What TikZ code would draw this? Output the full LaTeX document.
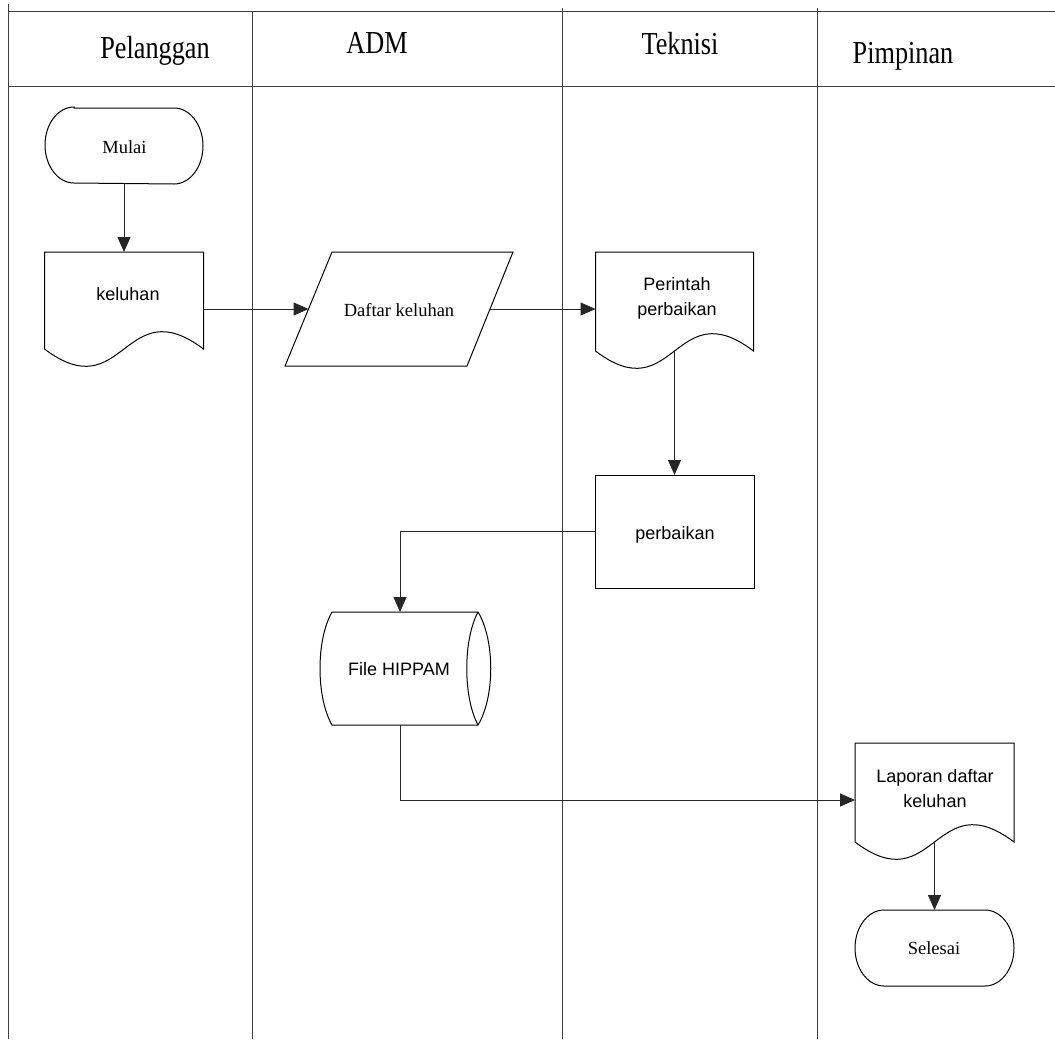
\documentclass[tikz,border=0pt]{standalone}
\usepackage{fontspec}
\setmainfont{Liberation Serif}
\newfontfamily\hdrfont[FakeStretch=0.82]{Liberation Serif}
\newfontfamily\sansfont{Liberation Sans}
\usetikzlibrary{calc,arrows.meta}
\newcommand\docshape[1]{\draw[shp] (#1.south west) -- (#1.north west) -- (#1.north east) -- (#1.south east) .. controls ($(#1.south)+(0,-60)$) and ($(#1.south)+(0,60)$) .. (#1.south west);}
\newcommand\termshape[1]{\draw[shp] ($(#1.north west)+(29,0)$) -- ($(#1.north east)+(-29,0)$) arc[start angle=90,end angle=-90,x radius=29pt,y radius=38pt] -- ($(#1.south west)+(29,0)$) arc[start angle=270,end angle=90,x radius=29pt,y radius=38pt] -- cycle;}
\begin{document}
\begin{tikzpicture}[x=1pt,y=-1pt,
  lane/.style={draw=black!75, line width=0.9pt},
  shp/.style={draw=black, line width=1pt},
  area/.style 2 args={inner sep=0pt, outer sep=0pt, minimum width=#1pt, minimum height=#2pt},
  conn/.style={draw=black!85, line width=1pt, -{Triangle[length=15pt,width=13pt]}},
  hdr/.style={font=\hdrfont\fontsize{32}{38}\selectfont, anchor=base, inner sep=0pt},
  ser/.style={font=\fontsize{18.5}{22}\selectfont, anchor=base, inner sep=0pt},
  san/.style={font=\sansfont\fontsize{18}{25}\selectfont, anchor=base, inner sep=0pt, align=center},
]
\useasboundingbox (0,0) rectangle (1055,1039);
% swimlanes
\draw[lane] (8,4) -- (8,1039);
\draw[lane] (252,11) -- (252,1039);
\draw[lane] (562,8) -- (562,1039);
\draw[lane] (817,8) -- (817,1039);
\draw[lane] (8,11) -- (1055,11);
\draw[lane] (8,86) -- (1055,86);
% headers
\node[hdr] (h1) at (155,58) {Pelanggan};
\node[hdr] (h2) at (377,53) {ADM};
\node[hdr] (h3) at (680,54) {Teknisi};
\node[hdr] (h4) at (903,63) {Pimpinan};
% shape areas
\node[area={158}{75}] (mu) at (124,145.5) {};
\node[area={159}{97}] (kel) at (124,300.5) {};
\node[area={228}{114}] (daf) at (399,309) {};
\node[area={158}{99}] (pr) at (674.5,301.5) {};
\node[area={159}{113}] (pb) at (674.5,531.5) {};
\node[area={146}{113}] (fh) at (405,668.5) {};
\node[area={159}{99}] (lap) at (934.5,792.5) {};
\node[area={159}{76}] (sel) at (934.5,948) {};
\coordinate (dafL) at ($(daf.west)+(23.5,0)$);
\coordinate (dafR) at ($(daf.east)+(-23,0)$);
% outlines
\termshape{mu}
\termshape{sel}
\docshape{kel}
\docshape{pr}
\docshape{lap}
\draw[shp] (pb.north west) rectangle (pb.south east);
\draw[shp] ($(daf.north west)+(47,0)$) -- (daf.north east) -- ($(daf.south east)+(-46,0)$) -- (daf.south west) -- cycle;
\draw[shp] (fh.north west) -- (fh.north east)
  .. controls ($(fh.north east)+(17,28)$) and ($(fh.south east)+(17,-28)$) .. (fh.south east)
  -- (fh.south west)
  .. controls ($(fh.south west)+(-16,-28)$) and ($(fh.north west)+(-16,28)$) .. (fh.north west);
\draw[shp] (fh.north east) .. controls ($(fh.north east)+(-15,28)$) and ($(fh.south east)+(-15,-28)$) .. (fh.south east);
% texts
\node[ser] (t-mu) at (124.5,153) {Mulai};
\node[san] (t-kel) at (128,300) {keluhan};
\node[ser] (t-daf) at (399,316) {Daftar keluhan};
\node[san, anchor=center] (t-pr) at (677,298) {Perintah\\perbaikan};
\node[san] (t-pb) at (675,539) {perbaikan};
\node[san] (t-fh) at (399,675) {File HIPPAM};
\node[san, anchor=center] (t-lap) at (935,789) {Laporan daftar\\keluhan};
\node[ser] (t-sel) at (934,954) {Selesai};
% connectors
\draw[conn] (mu.south) -- (kel.north);
\draw[conn] (kel.east |- dafL) -- (dafL);
\draw[conn] (dafR) -- (dafR -| pr.west);
\draw[conn] (pr.south) -- (pb.north);
\draw[conn] (pb.west) -| ([xshift=-5pt]fh.north);
\draw[conn] ([xshift=-5pt]fh.south) |- ([yshift=-7.5pt]lap.west);
\draw[conn] (lap.south) -- (sel.north);
\end{tikzpicture}
\end{document}
